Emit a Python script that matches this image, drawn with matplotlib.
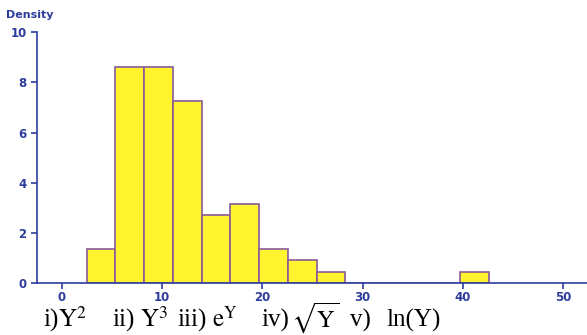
import matplotlib
matplotlib.use("Agg")
import matplotlib.pyplot as plt

# Histogram data (density in percent per unit)
bin_edges = [2.46, 5.33, 8.20, 11.07, 13.94, 16.81, 19.68, 22.55,
             25.42, 28.29, 31.16, 34.03, 36.90, 39.77, 42.64]
counts = [3, 19, 19, 16, 6, 7, 3, 2, 1, 0, 0, 0, 0, 1]
x_ticks = [0, 10, 20, 30, 40, 50]
y_ticks = [0, 2, 4, 6, 8, 10]

# caption pieces below the chart, where each one starts (figure fraction)
# and its font size
caption_parts = [r"i)$\mathrm{Y}^2$", r"ii) $\mathrm{Y}^3$",
                 r"iii) $\mathrm{e}^\mathrm{Y}$", "iv)",
                 r"$\sqrt{\mathrm{Y}}$", "v)", "ln(Y)"]
caption_x = [0.0727, 0.190, 0.301, 0.4458, 0.495, 0.596, 0.659]
caption_size = [18, 18, 18, 18, 17.5, 18, 18]

total = sum(counts)
density = [100 * c / (total * (bin_edges[i + 1] - bin_edges[i]))
           for i, c in enumerate(counts)]

axis_col = "#2e3c9c"
plt.rcParams["mathtext.fontset"] = "stix"

fig = plt.figure(figsize=(5.87, 3.35), dpi=100)
ax = fig.add_axes([0.063, 0.155, 0.937, 0.749])

ax.hist(bin_edges[:-1], bins=bin_edges, weights=density,
        color="#fff42e", edgecolor="#8a5a9a", linewidth=1.2)

ax.set_xlim(-2.5, 52.4)
ax.set_ylim(0, 10)
ax.set_xticks(x_ticks)
ax.set_yticks(y_ticks)

for side in ["top", "right"]:
    ax.spines[side].set_visible(False)
for side in ["left", "bottom"]:
    ax.spines[side].set_color(axis_col)
    ax.spines[side].set_linewidth(1.2)

ax.tick_params(colors=axis_col, labelcolor=axis_col, length=4, width=1.2,
               labelsize=8.5)
ax.tick_params(axis="x", pad=2)
for lbl in ax.get_xticklabels() + ax.get_yticklabels():
    lbl.set_fontweight("bold")

fig.text(0.01, 0.955, "Density", color=axis_col, fontsize=8,
         fontweight="bold", va="center")
for part, xpos, size in zip(caption_parts, caption_x, caption_size):
    fig.text(xpos, 0.024, part, family="Liberation Serif", fontsize=size,
             color="black", va="baseline")

fig.savefig("out.png", dpi=100)
